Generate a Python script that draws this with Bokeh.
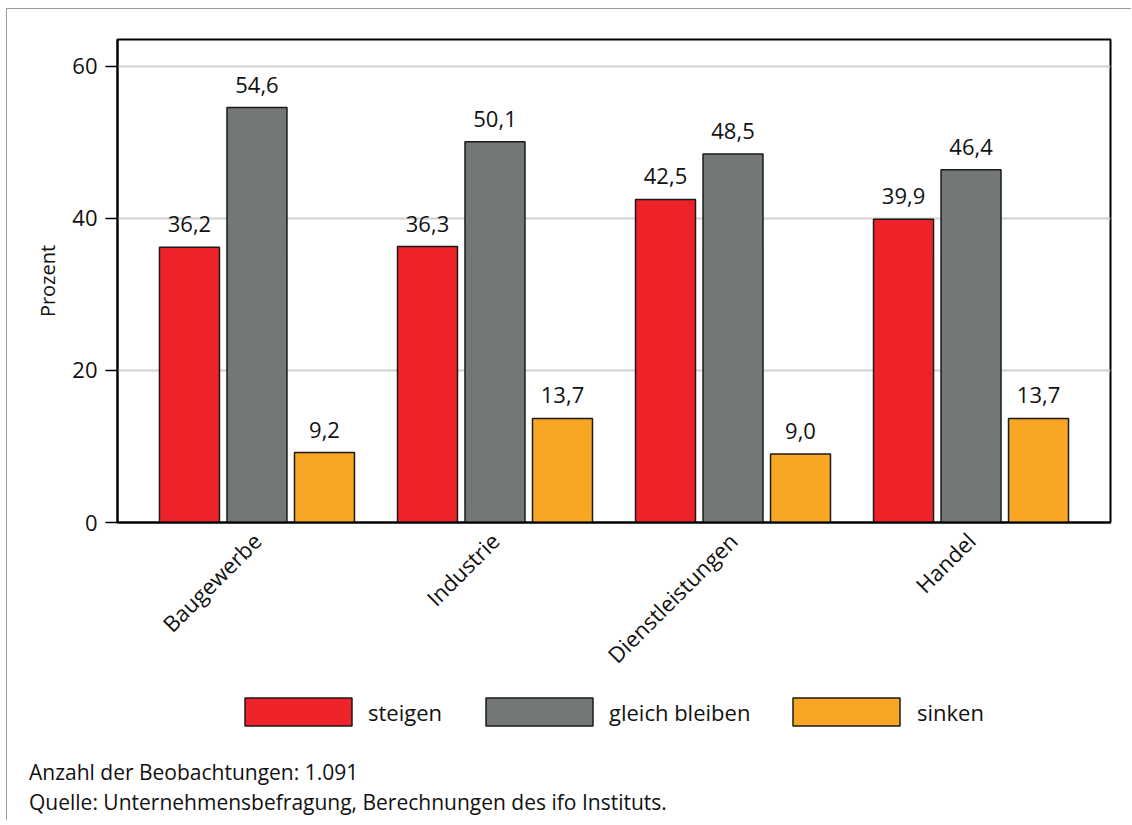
import math
from bokeh.plotting import figure
from bokeh.layouts import column
from bokeh.models import (ColumnDataSource, FixedTicker, Range1d, FactorRange, Div)
from bokeh.transform import dodge
from bokeh.embed import file_html
from bokeh.resources import INLINE
from bokeh.core.properties import value

categories = ["Baugewerbe", "Industrie", "Dienstleistungen", "Handel"]
series_names = ["steigen", "gleich bleiben", "sinken"]
steigen = [36.2, 36.3, 42.5, 39.9]
gleich_bleiben = [54.6, 50.1, 48.5, 46.4]
sinken = [9.2, 13.7, 9.0, 13.7]
colors = ["#EE2229", "#737777", "#F9A625"]
y_ticks = [0, 20, 40, 60]
notes = ["Anzahl der Beobachtungen: 1.091",
         "Quelle: Unternehmensbefragung, Berechnungen des ifo Instituts."]

# legend layout (page pixels): swatch left edges and label left edges
legend_swatch_left = [245, 486, 793]
legend_label_left = [368, 609, 917]

FONT = "Open Sans"
TXT = "#111111"

def fmt(v):
    return f"{v:.1f}".replace(".", ",")

keys = ["steigen", "gleich", "sinken"]
data = dict(cat=categories, steigen=steigen, gleich=gleich_bleiben, sinken=sinken)
for k in keys:
    data[k + "_lbl"] = [fmt(v) for v in data[k]]
source = ColumnDataSource(data)

# ---------------- main chart ----------------
p = figure(frame_width=993, frame_height=483,
           x_range=FactorRange(factors=categories, range_padding=0.086,
                               range_padding_units="absolute"),
           y_range=Range1d(0, 63.55),
           output_backend="svg", toolbar_location=None,
           min_border_left=110, min_border_right=21, min_border_top=30,
           min_border_bottom=160)

offsets = [-0.2836, 0.0, 0.2836]
for k, off, col in zip(keys, offsets, colors):
    p.vbar(x=dodge("cat", off, range=p.x_range), top=k, width=0.252,
           source=source, fill_color=col, line_color="#1a1a1a", line_width=1.5)
    p.text(x=dodge("cat", off, range=p.x_range), y=k, text=k + "_lbl", source=source,
           text_align="center", text_baseline="alphabetic", y_offset=-23,
           text_font=value(FONT), text_font_size="22px", text_color=TXT)

p.yaxis.ticker = FixedTicker(ticks=y_ticks)
p.yaxis.major_tick_out = 12
p.yaxis.major_tick_in = 0
p.yaxis.minor_tick_out = 0
p.yaxis.minor_tick_in = 0
p.yaxis.axis_line_width = 2
p.yaxis.major_tick_line_width = 1.5
p.yaxis.major_label_text_font = FONT
p.yaxis.major_label_text_font_size = "22px"
p.yaxis.major_label_text_color = TXT
p.yaxis.major_label_standoff = 8
p.yaxis.axis_label = "Prozent"
p.yaxis.axis_label_text_font = FONT
p.yaxis.axis_label_text_font_style = "normal"
p.yaxis.axis_label_text_font_size = "20px"
p.yaxis.axis_label_text_color = TXT
p.yaxis.axis_label_standoff = 8

p.xaxis.major_tick_out = 0
p.xaxis.major_tick_in = 0
p.xaxis.axis_line_width = 2
p.xaxis.major_label_orientation = math.pi / 4
p.xaxis.major_label_text_font = FONT
p.xaxis.major_label_text_font_size = "22px"
p.xaxis.major_label_text_color = TXT
p.xaxis.major_label_standoff = 14

p.xgrid.visible = False
p.ygrid.ticker = FixedTicker(ticks=y_ticks)
p.ygrid.grid_line_color = "#d0d0d0"
p.ygrid.grid_line_width = 2

p.outline_line_color = "black"
p.outline_line_width = 2

# ---------------- legend strip (page-pixel coordinates) ----------------
TOP2 = 9.5 + 30 + 483 + 160      # top of legend strip on the page
H2 = 68
q = figure(frame_width=993, frame_height=H2,
           x_range=Range1d(117.5, 1110.5), y_range=Range1d(TOP2 + H2, TOP2),
           output_backend="svg", toolbar_location=None,
           x_axis_location=None, y_axis_location=None,
           min_border_left=110, min_border_right=21, min_border_top=0,
           min_border_bottom=0)
q.outline_line_color = None
q.xgrid.visible = False
q.ygrid.visible = False

sw_w, sw_h, row_y = 107, 28, 712
leg = ColumnDataSource(dict(
    x=[l + sw_w / 2 for l in legend_swatch_left], y=[row_y] * 3,
    color=colors, lx=legend_label_left, label=series_names))
q.rect(x="x", y="y", width=sw_w, height=sw_h, source=leg, fill_color="color",
       line_color="#1a1a1a", line_width=1.5)
q.text(x="lx", y="y", text="label", source=leg, text_baseline="middle",
       text_align="left", text_font=value(FONT), text_font_size="22px",
       text_color=TXT)

notes_html = ('<div style="font-family:\'Open Sans\';font-size:21px;line-height:30px;'
              'color:#111111;padding-left:22px;padding-top:7px;white-space:nowrap">'
              + "<br>".join(notes) + "</div>")
div = Div(text=notes_html, width=1124, height=70, margin=0)

layout = column(p, q, div, spacing=0,
                styles={"margin-left": "6px", "margin-top": "8px",
                        "border-left": "1.5px solid #9a9a9a",
                        "border-top": "1.5px solid #9a9a9a"})

open("out.html", "w").write(file_html(layout, INLINE))
